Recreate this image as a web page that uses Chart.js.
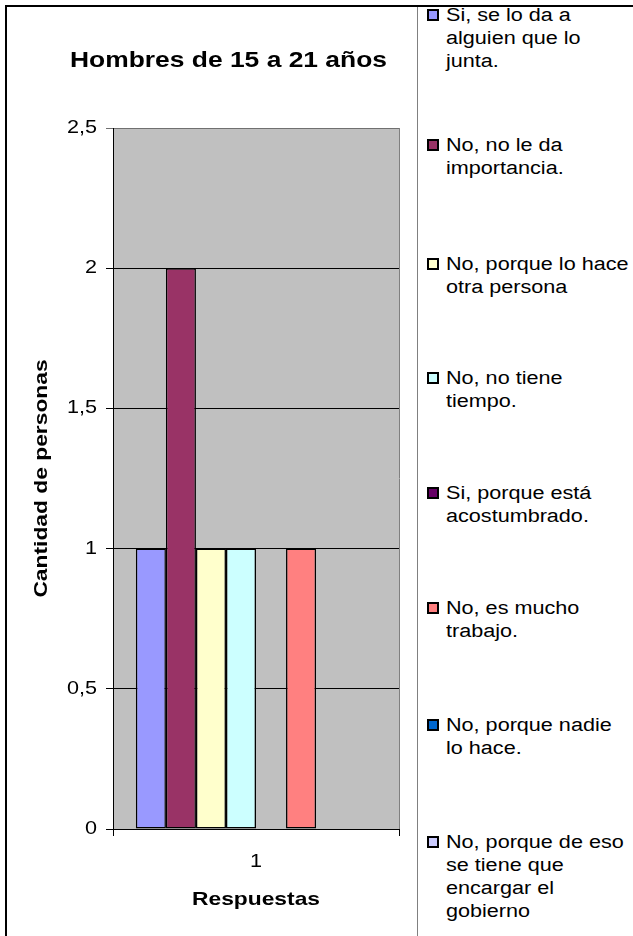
<!DOCTYPE html>
<html>
<head>
<meta charset="utf-8">
<script src="https://cdn.jsdelivr.net/npm/chart.js@4/dist/chart.umd.min.js"></script>
<style>
  html, body { margin: 0; padding: 0; background: #fff; overflow: hidden; }
  body { width: 633px; height: 936px; position: relative; font-family: "Liberation Sans", Arial, sans-serif; }
  #frameTop { position: absolute; z-index: 5; left: 5px; top: 5px; width: 628px; height: 2px; background: #000; }
  #frameLeft { position: absolute; z-index: 5; left: 5px; top: 5px; width: 2px; height: 931px; background: #000; }
  #chartBox { position: absolute; left: 0; top: 0; width: 417px; height: 936px; }
  #legend { position: absolute; left: 417px; top: 7px; width: 216px; height: 929px; border-left: 1px solid #808080; box-sizing: border-box; }
  .item { position: absolute; left: 0; }
  .mk { position: absolute; left: 9px; width: 12px; height: 12px; box-sizing: border-box; border: 2px solid #000; }
  .ln { position: absolute; left: 28px; white-space: nowrap; font-family: "Liberation Sans", Arial, sans-serif; font-size: 18px; line-height: 23px; height: 23px; color: #000; transform: scaleX(1.2); transform-origin: 0 50%; }
</style>
</head>
<body>
<div id="chartBox"><canvas id="c"></canvas></div>
<div id="legend"></div>
<div id="frameTop"></div>
<div id="frameLeft"></div>
<script>
// ---- data ----
const categories = ["1"];
const seriesLabels = [
  ["Si, se lo da a", "alguien que lo", "junta."],
  ["No, no le da", "importancia."],
  ["No, porque lo hace", "otra persona"],
  ["No, no tiene", "tiempo."],
  ["Si, porque está", "acostumbrado."],
  ["No, es mucho", "trabajo."],
  ["No, porque nadie", "lo hace."],
  ["No, porque de eso", "se tiene que", "encargar el", "gobierno"]
];
const seriesValues = [1, 2, 1, 1, 0, 1, 0, 0];
const seriesColors = ["#9999FF", "#993366", "#FFFFCC", "#CCFFFF", "#660066", "#FF8080", "#0066CC", "#CCCCFF"];
const yTicks = [0, 0.5, 1, 1.5, 2, 2.5];
const chartTitle = "Hombres de 15 a 21 años";
const yTitle = "Cantidad de personas";
const xTitle = "Respuestas";

// ---- layout (not data) ----
const legendFirstLineCenters = [15, 145, 264, 378, 493, 608, 725, 842];
const SX = 1.2;
const FONT = "'Liberation Sans', Arial, sans-serif";

const stretchText = {
  id: 'stretchText',
  beforeInit(chart) {
    const ctx = chart.ctx;
    const orig = ctx.fillText.bind(ctx);
    ctx.fillText = function (t, x, y) {
      ctx.save();
      ctx.translate(x, y);
      ctx.scale(SX, 1);
      orig(t, 0, 0);
      ctx.restore();
    };
  }
};

const plotBg = {
  id: 'plotBg',
  beforeDraw(chart) {
    const { ctx, chartArea: a } = chart;
    ctx.save();
    ctx.fillStyle = '#C0C0C0';
    ctx.fillRect(a.left, a.top, a.right - a.left, a.bottom - a.top);
    ctx.restore();
  },
  beforeDatasetsDraw(chart) {
    const { ctx, chartArea: a } = chart;
    ctx.save();
    ctx.strokeStyle = '#808080';
    ctx.lineWidth = 1;
    ctx.beginPath();
    ctx.moveTo(Math.round(a.right) + 0.5, a.top);
    ctx.lineTo(Math.round(a.right) + 0.5, a.bottom);
    ctx.stroke();
    ctx.restore();
  }
};

const htmlLegend = {
  id: 'htmlLegend',
  afterUpdate(chart) {
    const box = document.getElementById('legend');
    box.innerHTML = '';
    chart.data.datasets.forEach((ds, i) => {
      const item = document.createElement('div');
      item.className = 'item';
      const top = legendFirstLineCenters[i] - 7 - 11.5;
      item.style.top = top + 'px';
      const mk = document.createElement('div');
      mk.className = 'mk';
      mk.style.top = (11.5 - 6) + 'px';
      mk.style.background = ds.backgroundColor;
      item.appendChild(mk);
      seriesLabels[i].forEach((t, j) => {
        const ln = document.createElement('div');
        ln.className = 'ln';
        ln.style.top = (j * 23) + 'px';
        ln.textContent = t;
        item.appendChild(ln);
      });
      box.appendChild(item);
    });
  }
};

Chart.defaults.font.family = FONT;
Chart.defaults.color = '#000';

new Chart(document.getElementById('c'), {
  type: 'bar',
  data: {
    labels: categories,
    datasets: seriesLabels.map((l, i) => ({
      label: l.join(' '),
      data: [seriesValues[i]],
      backgroundColor: seriesColors[i],
      borderColor: '#000',
      borderWidth: 1.5,
      borderSkipped: false
    }))
  },
  options: {
    responsive: true,
    maintainAspectRatio: false,
    animation: false,
    devicePixelRatio: 1,
    layout: { padding: { left: 58, right: 18, top: 0, bottom: 25 } },
    datasets: { bar: { categoryPercentage: 0.84, barPercentage: 1.0 } },
    plugins: {
      legend: { display: false },
      tooltip: { enabled: false },
      title: {
        display: true,
        text: chartTitle,
        font: { size: 22, weight: 'bold', family: FONT },
        color: '#000',
        padding: { top: 47.8, bottom: 53.8 }
      }
    },
    scales: {
      x: {
        grid: { display: true, drawOnChartArea: false, drawTicks: true, tickLength: 7, color: '#000', lineWidth: 1 },
        border: { display: true, color: '#000', width: 1 },
        ticks: { font: { size: 18, family: FONT }, color: '#000', padding: 15 },
        title: { display: true, text: xTitle, font: { size: 19, weight: 'bold', family: FONT }, color: '#000', padding: { top: 0, bottom: 0 } },
        afterFit(s) { s.height = 82; }
      },
      y: {
        min: 0, max: 2.5,
        afterBuildTicks(s) { s.ticks = yTicks.map(v => ({ value: v })); },
        grid: {
          drawTicks: true, tickLength: 7, lineWidth: 1,
          color: (c) => (c.tick && c.tick.value === 2.5) ? '#707070' : '#000'
        },
        border: { display: true, color: '#000', width: 1 },
        ticks: {
          font: { size: 18, family: FONT }, color: '#000', padding: 9,
          callback: (v) => String(v).replace('.', ',')
        },
        title: { display: true, text: yTitle, font: { size: 19, weight: 'bold', family: FONT }, color: '#000', padding: { top: -27.4, bottom: 0 } },
        afterFit(s) { s.width = 55; }
      }
    }
  },
  plugins: [stretchText, plotBg, htmlLegend]
});
</script>
</body>
</html>
